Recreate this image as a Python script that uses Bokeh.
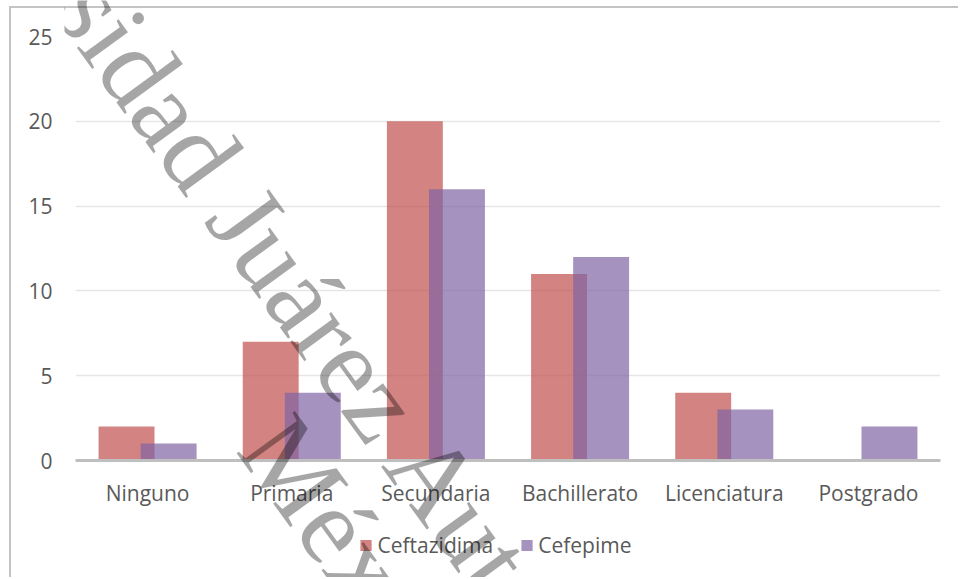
from bokeh.plotting import figure
from bokeh.layouts import column
from bokeh.models import (ColumnDataSource, FactorRange, Range1d, FixedTicker,
                          Legend, LegendItem, Label)
from bokeh.transform import dodge
from bokeh.embed import file_html
from bokeh.resources import INLINE

# Education level vs. antibiotic group (counts)
categories = ["Ninguno", "Primaria", "Secundaria", "Bachillerato", "Licenciatura", "Postgrado"]
ceftazidima = [2, 7, 20, 11, 4, 0]
cefepime = [1, 4, 16, 12, 3, 2]
y_ticks = [0, 5, 10, 15, 20, 25]

series_names = ["Ceftazidima", "Cefepime"]
watermark_line1 = "Universidad Juárez Autónoma de Tabasco"
watermark_line2 = "México"

FONT = "Open Sans"
TEXT_COLOR = "#595959"
RED = "#C0504D"
PURPLE = "#8064A2"
BAR_W = 0.388
OFFSET = 0.146

source = ColumnDataSource(data=dict(cat=categories, ceft=ceftazidima, cefe=cefepime))


def add_bars(fig):
    """Overlapping clustered bars for both series."""
    a = fig.vbar(x=dodge("cat", -OFFSET, range=fig.x_range), top="ceft", width=BAR_W,
                 bottom=0, source=source, fill_color=RED, fill_alpha=0.7, line_color=None)
    b = fig.vbar(x=dodge("cat", OFFSET, range=fig.x_range), top="cefe", width=BAR_W,
                 bottom=0, source=source, fill_color=PURPLE, fill_alpha=0.7, line_color=None)
    return a, b


def bare(fig):
    fig.axis.visible = False
    fig.grid.visible = False
    fig.outline_line_color = None
    fig.background_fill_alpha = 0
    fig.border_fill_alpha = 0


# ---- main chart -------------------------------------------------------------
p = figure(
    x_range=FactorRange(factors=categories, range_padding=0, factor_padding=0),
    y_range=Range1d(0, 25),
    width=949, height=571,
    output_backend="svg", toolbar_location=None,
    min_border_left=64, min_border_right=20,
    min_border_top=28, min_border_bottom=119,
    background_fill_color="white", border_fill_color="white",
)
p.outline_line_color = None
p.styles = {
    "margin-left": "9px",
    "margin-top": "6px",
    "border-left": "2px solid #C4C4C4",
    "border-top": "2px solid #C4C4C4",
}
add_bars(p)

p.xgrid.grid_line_color = None
p.ygrid.grid_line_color = "#E6E6E6"
p.ygrid.grid_line_width = 1.5
p.yaxis.ticker = FixedTicker(ticks=y_ticks)
p.yaxis.axis_line_color = None
p.yaxis.major_tick_line_color = None
p.yaxis.minor_tick_line_color = None
p.yaxis.major_tick_out = 0
p.yaxis.major_tick_in = 0
p.yaxis.major_label_standoff = 23

p.xaxis.axis_line_color = "#BFBFBF"
p.xaxis.axis_line_width = 3
p.xaxis.major_tick_line_color = None
p.xaxis.major_tick_out = 0
p.xaxis.major_tick_in = 0
p.xaxis.major_label_standoff = 18

for ax in (p.xaxis[0], p.yaxis[0]):
    ax.major_label_text_font = FONT
    ax.major_label_text_font_size = "21px"
    ax.major_label_text_color = TEXT_COLOR

# ---- legend strip under the category labels ----------------------------------
lg = figure(
    width=900, height=60,
    x_range=FactorRange(factors=categories, range_padding=0, factor_padding=0),
    y_range=Range1d(-2, -1),
    output_backend="svg", toolbar_location=None, min_border=0,
)
bare(lg)
lg.styles = {"position": "absolute", "left": "23px", "top": "515px"}
l1, l2 = add_bars(lg)
l1.visible = False   # only the legend swatches are wanted here
l2.visible = False
legend = Legend(
    items=[LegendItem(label=series_names[0], renderers=[l1]),
           LegendItem(label=series_names[1], renderers=[l2])],
    orientation="horizontal", location="center",
    glyph_width=14, glyph_height=14, label_standoff=5, spacing=26,
    padding=0, margin=0, border_line_color=None, background_fill_alpha=0,
    inactive_fill_alpha=0,
    label_text_font=FONT, label_text_font_size="21px", label_text_color=TEXT_COLOR,
)
lg.add_layout(legend, "center")

# ---- transparent overlay carrying the diagonal watermark ----------------------
wm = figure(
    width=960, height=579, x_range=Range1d(0, 960), y_range=Range1d(0, 579),
    output_backend="svg", toolbar_location=None, min_border=0,
)
bare(wm)
wm.styles = {"position": "absolute", "left": "0px", "top": "0px", "pointer-events": "none"}

for txt, xs, ys in [(watermark_line1, -180, 838), (watermark_line2, 220, 149)]:
    wm.add_layout(Label(
        x=xs, y=ys, text=txt,
        angle=-54, angle_units="deg",
        text_font="Liberation Serif", text_font_size="110px",
        text_color="black", text_alpha=0.35,
        text_align="left", text_baseline="alphabetic",
    ))

page = column(p, lg, wm)
open("out.html", "w").write(file_html(page, INLINE))
